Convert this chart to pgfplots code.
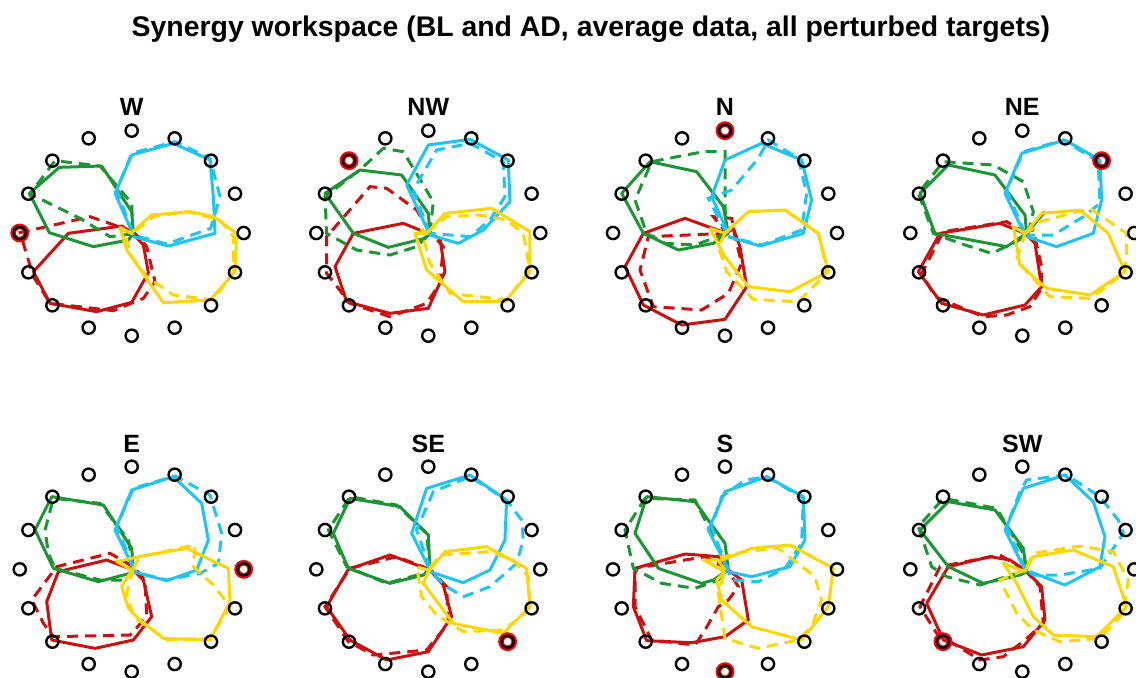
\documentclass[border=0pt]{standalone}
\usepackage{pgfplots}
\pgfplotsset{compat=1.18}
\usepackage{fontspec}
\setmainfont{Liberation Sans}
\definecolor{cR}{RGB}{204,16,16}
\definecolor{cG}{RGB}{28,150,52}
\definecolor{cC}{RGB}{30,196,245}
\definecolor{cY}{RGB}{255,214,0}
\pgfplotsset{
 panel/.style={scale only axis, width=134.3pt, height=123pt, hide axis, y dir=reverse, clip=false, anchor=center},
 sol/.style={line width=1.5pt, mark=none, line join=round},
 das/.style={line width=1.5pt, mark=none, dash pattern=on 5.5pt off 3.5pt},
 tg/.style={only marks, mark=o, mark size=3.05pt, line width=1.2pt, black},
 tr/.style={only marks, mark=o, mark size=3.3pt, line width=2.8pt, red},
}
\newcommand{\ptitle}[3]{\node[font=\fontsize{12.5}{14}\selectfont\bfseries] at (axis cs:#1,#2) {#3};}
\begin{document}
\begin{tikzpicture}[x=1pt,y=1pt]
\useasboundingbox (0,0) rectangle (568,338.5);
\node[font=\fontsize{14.2}{16}\selectfont\bfseries, anchor=base] at (295.5,320.2) {Synergy workspace (BL and AD, average data, all perturbed targets)};

% ---------- W ----------
\begin{axis}[panel, at={(65.85pt,222pt)}, xmin=-8, xmax=798, ymin=60, ymax=798]
\addplot[cR,das] coordinates {(400,425)(270,380)(60,428)(100,560)(150,640)(340,662)(430,625)(465,575)(440,470)(400,425)};
\addplot[cR,sol] coordinates {(400,432)(365,408)(205,430)(100,545)(150,640)(290,665)(395,637)(445,548)(430,465)(400,432)};
\addplot[cG,das] coordinates {(398,432)(395,340)(300,228)(165,212)(90,312)(240,385)(330,440)(395,432)};
\addplot[cG,sol] coordinates {(400,430)(395,365)(305,228)(178,232)(88,310)(148,428)(280,470)(385,450)(400,430)};
\addplot[cC,das] coordinates {(398,428)(350,300)(395,190)(525,155)(630,205)(660,320)(632,415)(500,462)(398,435)};
\addplot[cC,sol] coordinates {(400,435)(345,310)(395,195)(520,160)(630,210)(640,320)(645,430)(505,468)(400,440)};
\addplot[cY,das] coordinates {(398,430)(370,420)(395,500)(440,560)(520,615)(640,630)(700,545)(700,440)(660,390)(560,365)(460,380)(398,430)};
\addplot[cY,sol] coordinates {(398,432)(360,412)(380,480)(490,638)(630,630)(705,545)(710,430)(640,380)(570,365)(455,375)(398,425)};
\addplot[tr] coordinates {(59,429)};
\addplot[tg] coordinates {(395,122)(524,145)(633,212)(705,311)(731,429)(705,547)(633,646)(524,713)(395,737)(266,713)(157,646)(85,547)(59,429)(85,311)(157,212)(266,145)};
\ptitle{395}{51}{W}
\end{axis}

% ---------- NW ----------
\begin{axis}[panel, at={(214.15pt,222pt)}, xmin=12, xmax=818, ymin=60, ymax=798]
\addplot[cR,das] coordinates {(420,425)(380,360)(290,295)(240,290)(110,440)(110,550)(180,640)(300,680)(410,640)(450,580)(460,470)(420,425)};
\addplot[cR,sol] coordinates {(415,430)(340,400)(190,430)(135,530)(170,635)(300,670)(415,655)(465,545)(450,445)(415,430)};
\addplot[cG,das] coordinates {(420,430)(430,335)(340,185)(280,175)(215,235)(105,320)(110,430)(200,480)(300,495)(380,470)(420,430)};
\addplot[cG,sol] coordinates {(420,430)(415,370)(335,255)(210,240)(105,310)(190,430)(295,472)(405,445)(420,430)};
\addplot[cC,das] coordinates {(420,430)(370,300)(440,180)(540,160)(640,215)(645,320)(600,390)(540,440)(420,430)};
\addplot[cC,sol] coordinates {(420,435)(350,285)(415,165)(540,148)(655,210)(660,335)(580,420)(505,460)(420,435)};
\addplot[cY,das] coordinates {(415,430)(395,420)(420,520)(480,610)(650,630)(720,540)(700,430)(650,390)(570,375)(470,380)(415,425)};
\addplot[cY,sol] coordinates {(415,430)(375,430)(410,540)(520,635)(645,635)(720,545)(720,425)(605,355)(465,370)(415,425)};
\addplot[tr] coordinates {(177,212)};
\addplot[tg] coordinates {(415,122)(544,145)(653,212)(725,311)(751,429)(725,547)(653,646)(544,713)(415,737)(286,713)(177,646)(105,547)(79,429)(105,311)(177,212)(286,145)};
\ptitle{415}{51}{NW}
\end{axis}

% ---------- N ----------
\begin{axis}[panel, at={(362.5pt,222pt)}, xmin=17, xmax=823, ymin=60, ymax=798]
\addplot[cR,das] coordinates {(425,430)(190,440)(165,540)(205,650)(350,660)(430,610)(470,520)(450,440)(440,385)(385,380)(425,430)};
\addplot[cR,sol] coordinates {(425,430)(300,385)(175,430)(120,530)(175,645)(290,705)(420,688)(485,590)(465,470)(445,415)(425,430)};
\addplot[cG,das] coordinates {(425,430)(420,350)(420,185)(355,185)(200,215)(150,330)(185,430)(240,460)(330,465)(425,430)};
\addplot[cG,sol] coordinates {(430,430)(415,350)(335,245)(195,215)(110,310)(175,430)(280,480)(385,460)(430,430)};
\addplot[cC,das] coordinates {(425,430)(370,325)(440,300)(520,205)(550,150)(640,205)(665,310)(650,420)(530,465)(430,440)};
\addplot[cC,sol] coordinates {(430,430)(380,320)(420,210)(530,160)(650,210)(680,330)(655,430)(525,468)(430,440)};
\addplot[cY,das] coordinates {(420,430)(400,470)(425,545)(505,628)(640,635)(715,560)(725,540)(700,430)(600,360)(490,365)(420,430)};
\addplot[cY,sol] coordinates {(420,430)(375,415)(420,500)(490,590)(615,605)(730,545)(700,430)(600,360)(490,365)(420,430)};
\addplot[tr] coordinates {(420,122)};
\addplot[tg] coordinates {(420,122)(549,145)(658,212)(730,311)(756,429)(730,547)(658,646)(549,713)(420,737)(291,713)(182,646)(110,547)(84,429)(110,311)(182,212)(291,145)};
\ptitle{420}{51}{N}
\end{axis}

% ---------- NE ----------
\begin{axis}[panel, at={(511.15pt,222pt)}, xmin=84, xmax=890, ymin=60, ymax=798]
\addplot[cR,das] coordinates {(500,430)(440,395)(250,425)(185,550)(225,620)(370,680)(440,675)(510,650)(545,595)(545,530)(520,420)(500,425)};
\addplot[cR,sol] coordinates {(495,430)(420,400)(240,430)(175,545)(245,640)(370,675)(495,645)(545,590)(525,460)(495,430)};
\addplot[cG,das] coordinates {(505,430)(520,365)(490,275)(400,225)(250,215)(175,310)(220,430)(300,460)(395,490)(470,455)(505,430)};
\addplot[cG,sol] coordinates {(500,430)(495,375)(405,255)(265,225)(180,310)(225,430)(440,470)(500,430)(555,365)};
\addplot[cC,das] coordinates {(495,430)(440,300)(490,185)(610,150)(715,215)(720,340)(670,380)(580,435)(500,435)};
\addplot[cC,sol] coordinates {(495,435)(435,310)(485,190)(615,150)(720,210)(725,330)(700,430)(590,470)(500,440)};
\addplot[cY,das] coordinates {(495,430)(530,410)(540,395)(690,355)(800,430)(800,490)(795,545)(740,590)(690,625)(570,620)(470,510)(495,430)};
\addplot[cY,sol] coordinates {(495,430)(460,410)(480,525)(560,595)(690,615)(795,545)(745,430)(660,360)(545,370)(495,430)};
\addplot[tr] coordinates {(725,212)};
\addplot[tg] coordinates {(487,122)(616,145)(725,212)(797,311)(823,429)(797,547)(725,646)(616,713)(487,737)(358,713)(249,646)(177,547)(151,429)(177,311)(249,212)(358,145)};
\ptitle{487}{51}{NE}
\end{axis}

% ---------- E ----------
\begin{axis}[panel, at={(65.85pt,53.9pt)}, xmin=-8, xmax=798, ymin=78.6, ymax=816.6]
\addplot[cR,das] coordinates {(400,440)(330,400)(170,440)(95,540)(130,610)(160,650)(390,645)(440,590)(435,480)(400,440)};
\addplot[cR,sol] coordinates {(400,450)(320,420)(175,455)(140,545)(155,660)(285,685)(400,660)(455,590)(430,480)(400,450)};
\addplot[cG,das] coordinates {(400,445)(385,360)(300,250)(160,235)(135,330)(145,400)(165,445)(300,480)(370,480)(400,445)};
\addplot[cG,sol] coordinates {(400,450)(395,385)(310,255)(155,230)(105,330)(160,445)(295,485)(390,460)(400,450)};
\addplot[cC,das] coordinates {(400,440)(350,320)(400,205)(525,168)(630,225)(665,340)(655,430)(600,460)(500,480)(400,455)};
\addplot[cC,sol] coordinates {(400,445)(345,330)(395,210)(520,170)(605,250)(625,360)(590,450)(500,482)(400,455)};
\addplot[cY,das] coordinates {(400,445)(420,410)(585,375)(580,440)(640,495)(690,560)(630,655)(500,660)(400,590)(380,520)(400,445)};
\addplot[cY,sol] coordinates {(395,450)(350,425)(415,410)(560,385)(685,445)(690,545)(630,660)(490,655)(420,600)(385,565)(365,500)(395,450)};
\addplot[tr] coordinates {(731,448)};
\addplot[tg] coordinates {(395,140)(524,164)(633,230)(705,330)(731,448)(705,565)(633,665)(524,732)(395,755)(266,732)(157,665)(85,565)(59,448)(85,330)(157,230)(266,164)};
\ptitle{395}{72}{E}
\end{axis}

% ---------- SE ----------
\begin{axis}[panel, at={(214.15pt,53.9pt)}, xmin=12, xmax=818, ymin=78.6, ymax=816.6]
\addplot[cR,das] coordinates {(420,448)(320,410)(180,445)(105,560)(175,665)(250,705)(410,690)(475,610)(470,500)(420,448)};
\addplot[cR,sol] coordinates {(420,450)(300,405)(175,448)(110,560)(180,660)(290,720)(415,695)(485,590)(460,495)(420,450)};
\addplot[cG,das] coordinates {(420,445)(410,340)(320,255)(180,230)(115,330)(170,440)(290,490)(400,460)(420,445)};
\addplot[cG,sol] coordinates {(420,450)(415,345)(330,260)(180,235)(130,340)(175,445)(300,490)(400,465)(420,450)};
\addplot[cC,das] coordinates {(420,445)(380,330)(430,215)(540,170)(650,240)(695,300)(700,360)(680,430)(600,500)(520,530)(470,500)(420,455)};
\addplot[cC,sol] coordinates {(420,450)(365,340)(410,205)(540,165)(650,240)(645,360)(600,450)(520,488)(420,455)};
\addplot[cY,das] coordinates {(415,450)(380,440)(395,530)(440,585)(520,635)(640,630)(700,585)(720,560)(715,470)(670,420)(600,395)(450,405)(415,450)};
\addplot[cY,sol] coordinates {(415,455)(400,490)(490,610)(640,640)(720,560)(710,445)(590,380)(465,395)(415,455)};
\addplot[tr] coordinates {(653,665)};
\addplot[tg] coordinates {(415,140)(544,164)(653,230)(725,330)(751,448)(725,565)(653,665)(544,732)(415,755)(286,732)(177,665)(105,565)(79,448)(105,330)(177,230)(286,164)};
\ptitle{415}{72}{SE}
\end{axis}

% ---------- S ----------
\begin{axis}[panel, at={(362.5pt,53.9pt)}, xmin=17, xmax=823, ymin=78.6, ymax=816.6]
\addplot[cR,das] coordinates {(425,445)(360,410)(150,445)(150,560)(200,660)(330,675)(360,630)(400,560)(430,540)(460,500)(425,445)};
\addplot[cR,sol] coordinates {(430,450)(400,410)(300,402)(150,445)(145,560)(185,662)(320,668)(420,650)(490,600)(470,480)(430,450)};
\addplot[cG,das] coordinates {(425,450)(410,400)(330,240)(180,235)(120,330)(145,445)(230,490)(330,505)(400,480)(425,450)};
\addplot[cG,sol] coordinates {(430,450)(420,370)(330,245)(185,230)(150,340)(220,445)(350,490)(385,480)(430,450)};
\addplot[cC,das] coordinates {(425,445)(380,320)(410,230)(480,180)(545,170)(655,235)(650,370)(600,445)(520,485)(440,480)(425,445)};
\addplot[cC,sol] coordinates {(430,450)(370,330)(420,215)(545,170)(655,230)(660,360)(615,440)(500,470)(430,455)};
\addplot[cY,das] coordinates {(420,450)(395,415)(480,395)(580,385)(690,470)(710,540)(680,620)(640,660)(520,685)(420,655)(400,520)(420,450)};
\addplot[cY,sol] coordinates {(420,455)(355,420)(410,420)(500,385)(615,375)(745,445)(730,560)(650,660)(500,620)(410,540)(395,480)(420,455)};
\addplot[tr] coordinates {(420,755)};
\addplot[tg] coordinates {(420,140)(549,164)(658,230)(730,330)(756,448)(730,565)(658,665)(549,732)(420,755)(291,732)(182,665)(110,565)(84,448)(110,330)(182,230)(291,164)};
\ptitle{420}{72}{S}
\end{axis}

% ---------- SW ----------
\begin{axis}[panel, at={(511.15pt,53.9pt)}, xmin=84, xmax=890, ymin=78.6, ymax=816.6]
\addplot[cR,das] coordinates {(495,450)(420,405)(240,440)(180,560)(230,640)(360,720)(430,710)(495,660)(550,610)(540,500)(495,450)};
\addplot[cR,sol] coordinates {(495,450)(450,420)(390,410)(265,440)(200,550)(250,660)(365,705)(490,680)(555,600)(545,500)(495,450)};
\addplot[cG,das] coordinates {(500,450)(490,400)(410,265)(250,235)(175,320)(215,440)(260,470)(360,495)(470,460)(500,450)};
\addplot[cG,sol] coordinates {(500,455)(490,385)(405,270)(265,245)(180,330)(265,440)(370,490)(480,465)(500,455)};
\addplot[cC,das] coordinates {(495,445)(440,320)(480,215)(500,180)(620,165)(720,230)(775,300)(790,340)(760,385)(720,445)(600,465)(520,465)(495,445)};
\addplot[cC,sol] coordinates {(495,450)(435,330)(490,205)(615,165)(700,245)(735,350)(720,440)(615,495)(510,455)};
\addplot[cY,das] coordinates {(495,450)(420,480)(470,580)(520,630)(600,665)(720,655)(790,580)(805,480)(760,395)(660,378)(520,400)(495,450)};
\addplot[cY,sol] coordinates {(495,455)(430,430)(470,490)(520,590)(580,645)(710,650)(800,560)(760,440)(640,390)(520,410)(495,455)};
\addplot[tr] coordinates {(249,665)};
\addplot[tg] coordinates {(487,140)(616,164)(725,230)(797,330)(823,448)(797,565)(725,665)(616,732)(487,755)(358,732)(249,665)(177,565)(151,448)(177,330)(249,230)(358,164)};
\ptitle{487}{72}{SW}
\end{axis}
\end{tikzpicture}
\end{document}
